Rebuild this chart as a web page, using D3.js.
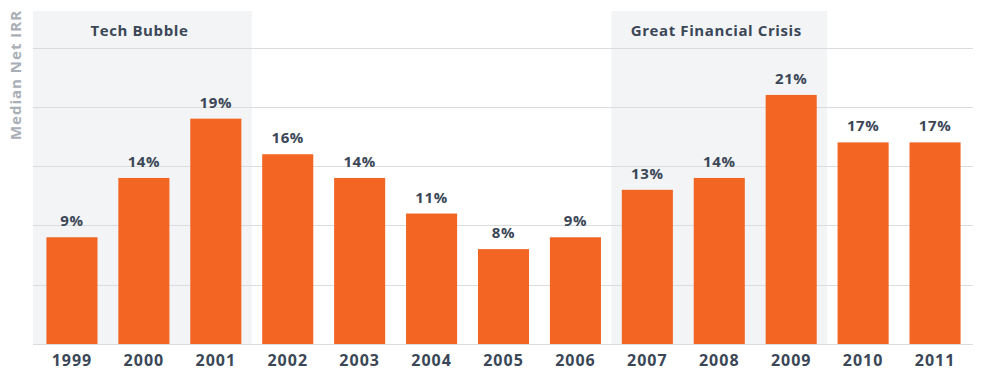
<!DOCTYPE html>
<html>
<head>
<meta charset="utf-8">
<script src="https://cdn.jsdelivr.net/npm/d3@7"></script>
<style>
	body { margin: 0; background: #ffffff; }
	svg { display: block; font-family: "Open Sans", sans-serif; }
</style>
</head>
<body>
<div id="chart"></div>
<script>
// Vintage years and median net IRR (%)
const years = ["1999", "2000", "2001", "2002", "2003", "2004", "2005", "2006", "2007", "2008", "2009", "2010", "2011"];
const irr = [9, 14, 19, 16, 14, 11, 8, 9, 13, 14, 21, 17, 17];
const yTicks = [0, 5, 10, 15, 20, 25];
// Shaded periods: [first year, last year, label]
const periods = [["1999", "2001", "Tech Bubble"], ["2007", "2009", "Great Financial Crisis"]];

const width = 986, height = 375;
const plot = { left: 33, right: 973, top: 11, bottom: 344 };
const ink = "#3b4757";

const svg = d3.select("#chart").append("svg")
	.attr("width", width)
	.attr("height", height);

// Band scale for the years
const x = d3.scaleBand()
	.domain(years)
	.range([36, 971])
	.paddingInner(0.29)
	.paddingOuter(0.145);

// Linear scale for the IRR
const y = d3.scaleLinear()
	.domain([0, 25])
	.range([plot.bottom, 47.5]);

const half = x.step() * x.paddingInner() / 2;

// Shaded periods
periods.forEach(([from, to, label], i) => {
	const x0 = i === 0 ? plot.left : x(from) - half;
	const x1 = x(to) + x.bandwidth() + half;
	svg.append("rect")
		.attr("x", x0)
		.attr("y", plot.top)
		.attr("width", x1 - x0)
		.attr("height", plot.bottom - plot.top)
		.attr("fill", "#f3f4f6");
	svg.append("text")
		.attr("x", (x0 + x1) / 2 - 3)
		.attr("y", 36)
		.attr("text-anchor", "middle")
		.attr("font-size", 15)
		.attr("font-weight", 700)
		.attr("letter-spacing", 0.6)
		.attr("fill", ink)
		.text(label);
});

// Gridlines
svg.append("g")
	.selectAll("line")
	.data(yTicks)
	.enter()
	.append("line")
	.attr("x1", plot.left)
	.attr("x2", plot.right)
	.attr("y1", d => Math.round(y(d)) + 0.5)
	.attr("y2", d => Math.round(y(d)) + 0.5)
	.attr("stroke", "#dadcdf")
	.attr("stroke-width", 1);

// Bars
svg.append("g")
	.selectAll("rect")
	.data(irr)
	.enter()
	.append("rect")
	.attr("x", (d, i) => x(years[i]))
	.attr("y", d => y(d))
	.attr("width", x.bandwidth())
	.attr("height", d => plot.bottom - y(d))
	.attr("fill", "#f26522");

// Value labels
svg.append("g")
	.selectAll("text")
	.data(irr)
	.enter()
	.append("text")
	.attr("x", (d, i) => x(years[i]) + x.bandwidth() / 2)
	.attr("y", d => y(d) - 11)
	.attr("text-anchor", "middle")
	.attr("font-size", 15)
	.attr("font-weight", 700)
	.attr("letter-spacing", 0.6)
	.attr("fill", ink)
	.text(d => d + "%");

// Year axis
const xAxis = svg.append("g")
	.attr("transform", `translate(0,${plot.bottom})`)
	.call(d3.axisBottom(x).tickSize(0).tickPadding(11));
xAxis.select(".domain").remove();
xAxis.selectAll("text")
	.attr("dy", "0.71em")
	.attr("font-size", 16)
	.attr("font-weight", 700)
	.attr("letter-spacing", 1)
	.attr("font-family", "Open Sans, sans-serif")
	.attr("fill", ink);

// Y axis title
svg.append("text")
	.attr("transform", "translate(21,75) rotate(-90)")
	.attr("text-anchor", "middle")
	.attr("font-size", 15)
	.attr("font-weight", 700)
	.attr("letter-spacing", 1)
	.attr("fill", "#a9afb6")
	.text("Median Net IRR");
</script>
</body>
</html>
